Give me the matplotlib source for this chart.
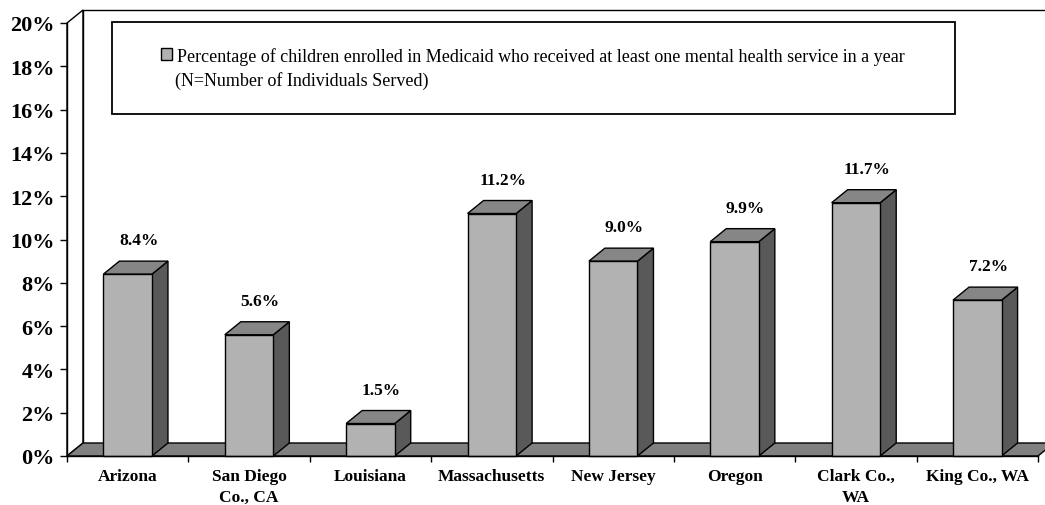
import matplotlib
matplotlib.use("Agg")
import matplotlib.pyplot as plt
from matplotlib.patches import Polygon, Rectangle

plt.rcParams['font.family'] = ['Liberation Serif', 'DejaVu Serif']

# ---- data ----
categories = ["Arizona", "San Diego\nCo., CA", "Louisiana", "Massachusetts",
              "New Jersey", "Oregon", "Clark Co.,\nWA", "King Co., WA"]
values = [8.4, 5.6, 1.5, 11.2, 9.0, 9.9, 11.7, 7.2]
yticks = list(range(0, 21, 2))
ytick_labels = [f"{t}%" for t in yticks]
legend_line1 = "Percentage of children enrolled in Medicaid who received at least one mental health service in a year"
legend_line2 = "(N=Number of Individuals Served)"

# ---- layout (pixels) ----
W, H = 1045, 506
x0, x1 = 67, 1038
yb, yt = 457, 24
fig = plt.figure(figsize=(W / 100, H / 100), dpi=100)
ax = fig.add_axes([x0 / W, (H - yb) / H, (x1 - x0) / W, (yb - yt) / H])
n = len(categories)
ax.set_xlim(0, n)
ax.set_ylim(0, 20)
px_x = (x1 - x0) / n
px_y = (yb - yt) / 20
DX = 16 / px_x
DY = 13 / px_y

ax.patch.set_visible(False)
for s in ["top", "right", "bottom"]:
    ax.spines[s].set_visible(False)
ax.spines["left"].set_linewidth(1.0)
ax.spines["left"].set_zorder(5)

FRONT = "#b2b2b2"
TOP = "#868686"
SIDE = "#595959"
FLOOR = "#808080"
LW = 1.0

# walls
ax.add_patch(Polygon([(0, 0), (DX, DY), (DX, 20 + DY), (0, 20)], closed=True,
                     fc="white", ec="black", lw=LW, clip_on=False, zorder=1))
ax.plot([DX, DX, n + 2], [DY, 20 + DY, 20 + DY], color="black", lw=LW,
        clip_on=False, zorder=1)
# floor
ax.add_patch(Polygon([(0, 0), (n, 0), (n + DX, DY), (DX, DY)], closed=True,
                     fc=FLOOR, ec="black", lw=LW, clip_on=False, zorder=2))

# bars
bw = 0.4
for i, v in enumerate(values):
    l = i + 0.5 - bw / 2
    r = l + bw
    ax.add_patch(Polygon([(r, 0), (r + DX, DY), (r + DX, v + DY), (r, v)], closed=True,
                         fc=SIDE, ec="black", lw=LW, clip_on=False, zorder=3))
    ax.add_patch(Polygon([(l, v), (r, v), (r + DX, v + DY), (l + DX, v + DY)], closed=True,
                         fc=TOP, ec="black", lw=LW, clip_on=False, zorder=3))
    ax.add_patch(Rectangle((l, 0), bw, v, fc=FRONT, ec="black", lw=LW,
                           clip_on=False, zorder=3))
    ax.text(i + 0.5 + DX / 2 + 3 / px_x, v + 34 / px_y, f"{v:.1f}%",
            ha="center", va="center", fontsize=12.5, fontweight="bold", zorder=4)

# front floor edge on top
ax.plot([0, n], [0, 0], color="black", lw=LW, clip_on=False, zorder=5)

# y axis
ax.set_yticks(yticks)
ax.set_yticklabels(ytick_labels, fontsize=16, fontweight="bold")
ax.tick_params(axis="y", direction="out", length=5, width=1.0, pad=4)

# x axis
ax.set_xticks(range(n + 1))
ax.set_xticklabels([])
ax.tick_params(axis="x", which="major", direction="out", length=4.5, width=1.0)
ax.set_xticks([i + 0.5 for i in range(n)], minor=True)
ax.set_xticklabels(categories, minor=True, fontsize=12.5, fontweight="bold",
                   linespacing=1.45)
ax.tick_params(axis="x", which="minor", length=0, pad=8.5)

# legend box (overlay in pixel coordinates)
ov = fig.add_axes([0, 0, 1, 1])
ov.set_xlim(0, W)
ov.set_ylim(H, 0)
ov.axis("off")
ov.patch.set_visible(False)
ov.add_patch(Rectangle((112, 23), 955 - 112, 115 - 23, fc="white", ec="black", lw=1.3))
ov.add_patch(Rectangle((161, 49), 11, 12, fc=FRONT, ec="black", lw=1.0))
ov.text(177, 57, legend_line1, ha="left", va="center", fontsize=13)
ov.text(175, 81, legend_line2, ha="left", va="center", fontsize=13)

fig.savefig("out.png", dpi=100)
